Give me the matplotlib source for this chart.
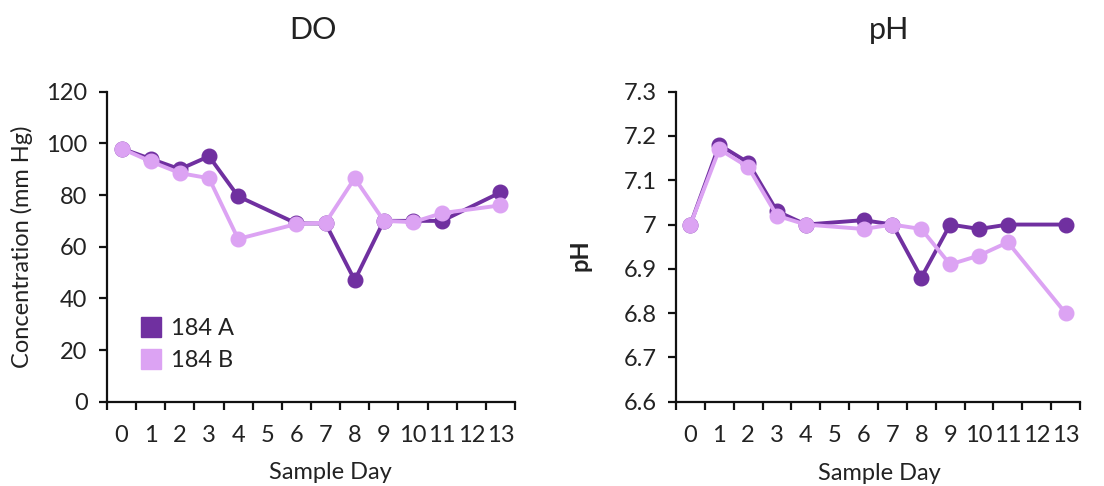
import numpy as np
import matplotlib
matplotlib.use("Agg")
import matplotlib.pyplot as plt
from matplotlib.lines import Line2D

plt.rcParams['font.family'] = ['Lato', 'DejaVu Sans']
plt.rcParams['text.color'] = '#222222'
plt.rcParams['axes.labelcolor'] = '#222222'
plt.rcParams['xtick.color'] = '#111111'
plt.rcParams['ytick.color'] = '#111111'
plt.rcParams['xtick.labelcolor'] = '#222222'
plt.rcParams['ytick.labelcolor'] = '#222222'

# sample days (categories); days 5 and 12 have no samples
days = ['0', '1', '2', '3', '4', '5', '6', '7', '8', '9', '10', '11', '12', '13']

do_a = [98, 94, 90, 95, 79.5, None, 69, 69, 47, 70, 70, 70, None, 81]
do_b = [98, 93, 88.5, 86.5, 63, None, 68.8, 69.3, 86.5, 70, 69.5, 73, None, 76]

ph_a = [7.0, 7.18, 7.14, 7.03, 7.0, None, 7.01, 7.0, 6.88, 7.0, 6.99, 7.0, None, 7.0]
ph_b = [7.0, 7.17, 7.13, 7.02, 7.0, None, 6.99, 7.0, 6.99, 6.91, 6.93, 6.96, None, 6.80]

do_ticks = [0, 20, 40, 60, 80, 100, 120]
ph_ticks = [6.6, 6.7, 6.8, 6.9, 7.0, 7.1, 7.2, 7.3]
ph_ticklabels = ['6.6', '6.7', '6.8', '6.9', '7', '7.1', '7.2', '7.3']

col_a = '#7030A0'
col_b = '#DCA3F3'

fs = 17


def series(vals):
    x = np.array([i for i, v in enumerate(vals) if v is not None])
    y = np.array([v for v in vals if v is not None])
    return x, y


def style_axes(ax):
    for s in ['top', 'right']:
        ax.spines[s].set_visible(False)
    for s in ['left', 'bottom']:
        ax.spines[s].set_linewidth(1.6)
        ax.spines[s].set_color('#111111')
    n = len(days)
    ax.set_xlim(-0.5, n - 0.5)
    # tick marks between categories, labels at centers
    ax.set_xticks(np.arange(-0.5, n, 1.0))
    ax.set_xticklabels([])
    ax.set_xticks(np.arange(n), minor=True)
    ax.set_xticklabels(days, minor=True, fontsize=fs)
    ax.tick_params(axis='x', which='major', direction='out', length=6, width=1.6)
    ax.tick_params(axis='x', which='minor', length=0, pad=17)
    ax.tick_params(axis='y', direction='out', length=6, width=1.6, labelsize=fs, pad=8)


def plot_pair(ax, a, b):
    xa, ya = series(a)
    xb, yb = series(b)
    ax.plot(xa, ya, color=col_a, lw=2.8, marker='o', ms=10.5, clip_on=False)
    ax.plot(xb, yb, color=col_b, lw=2.8, marker='o', ms=10.5, clip_on=False)


fig = plt.figure(figsize=(11.04, 4.86), dpi=100)
ax1 = fig.add_axes([107 / 1104, 84.3 / 486, 408 / 1104, 310 / 486])
ax2 = fig.add_axes([676 / 1104, 84.3 / 486, 404 / 1104, 310 / 486])

# --- DO ---
plot_pair(ax1, do_a, do_b)
style_axes(ax1)
ax1.set_ylim(0, 120)
ax1.set_yticks(do_ticks)

handles = [Line2D([], [], ls='none', marker='s', ms=15, color=col_a),
           Line2D([], [], ls='none', marker='s', ms=15, color=col_b)]
ax1.legend(handles, ['184 A', '184 B'], loc='upper left', bbox_to_anchor=(0.055, 0.30),
           frameon=False, fontsize=fs, handletextpad=0.35, labelspacing=0.45,
           handlelength=1.0, borderaxespad=0)

# --- pH ---
plot_pair(ax2, ph_a, ph_b)
style_axes(ax2)
ax2.set_ylim(6.6, 7.3)
ax2.set_yticks(ph_ticks)
ax2.set_yticklabels(ph_ticklabels)

# titles and axis labels
fig.text(313 / 1104, 1 - 30 / 486, 'DO', ha='center', va='center', fontsize=22)
fig.text(889 / 1104, 1 - 30 / 486, 'pH', ha='center', va='center', fontsize=22)
fig.text(330 / 1104, 1 - 472 / 486, 'Sample Day', ha='center', va='center', fontsize=fs)
fig.text(879 / 1104, 1 - 473 / 486, 'Sample Day', ha='center', va='center', fontsize=fs)
fig.text(22 / 1104, 1 - 247 / 486, 'Concentration (mm Hg)', ha='center', va='center',
         rotation=90, fontsize=fs)
fig.text(580 / 1104, 1 - 255 / 486, 'pH', ha='center', va='center', rotation=90,
         fontsize=fs, fontweight='bold')

fig.savefig('out.png', dpi=100)
